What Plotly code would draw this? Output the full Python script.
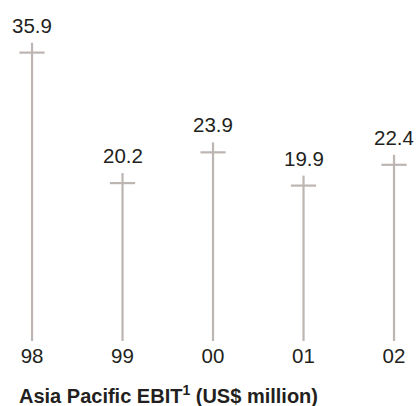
import plotly.graph_objects as go

categories = ["98", "99", "00", "01", "02"]
values = [35.9, 20.2, 23.9, 19.9, 22.4]
value_labels = ["35.9", "20.2", "23.9", "19.9", "22.4"]
title_text = "Asia Pacific EBIT<sup>1</sup> (US$ million)"

LINE_COLOR = "#bcb5b2"
TEXT_COLOR = "#231f20"
FONT = "Liberation Sans, Arial, sans-serif"

xs = list(range(len(categories)))

fig = go.Figure()

# vertical stems
stem_x, stem_y = [], []
for i, v in zip(xs, values):
    stem_x += [i, i, None]
    stem_y += [0, v, None]
fig.add_trace(go.Scatter(x=stem_x, y=stem_y, mode="lines",
                         line=dict(color=LINE_COLOR, width=2.2),
                         hoverinfo="skip", showlegend=False))

# cross bars slightly below the top of each stem
cross_offset = 1.2
fig.add_trace(go.Scatter(x=xs, y=[v - cross_offset for v in values], mode="markers",
                         marker=dict(symbol="line-ew", size=18,
                                     line=dict(color=LINE_COLOR, width=2.2)),
                         hoverinfo="skip", showlegend=False))

for i, v, lab in zip(xs, values, value_labels):
    fig.add_annotation(x=i, y=v, text=lab, showarrow=False, xanchor="center",
                       yanchor="bottom", yshift=4,
                       font=dict(family=FONT, size=20.5, color=TEXT_COLOR))

fig.add_annotation(xref="paper", yref="paper", x=17 / 418, y=-0.115,
                   xanchor="left", yanchor="top", showarrow=False,
                   text="<b>" + title_text + "</b>",
                   font=dict(family=FONT, size=20, color=TEXT_COLOR))

fig.update_layout(
    width=418, height=406,
    margin=dict(l=0, r=0, t=0, b=65),
    paper_bgcolor="white", plot_bgcolor="white",
    xaxis=dict(range=[-0.354, 4.265], tickmode="array", tickvals=xs,
               ticktext=categories, showgrid=False, zeroline=False,
               showline=False, ticks="", fixedrange=True,
               tickfont=dict(family=FONT, size=20.5, color=TEXT_COLOR)),
    yaxis=dict(range=[0, 41.03], visible=False, fixedrange=True),
)

fig.write_html("out.html")
